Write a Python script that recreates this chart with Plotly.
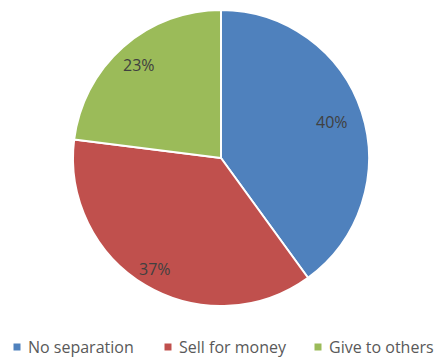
import math
import plotly.graph_objects as go

# Survey answers and their shares (%)
categories = ["No separation", "Sell for money", "Give to others"]
shares = [40, 37, 23]
colors = ["#4F81BD", "#C0504D", "#9BBB59"]

W, H = 436, 359
cx, cy, R = 221, 158, 148  # pie centre and radius in pixels
label_r = [0.79, 0.87, 0.84]  # radial position of each percentage label

font_family = "'Open Sans', sans-serif"
label_color = "#404040"
legend_color = "#595959"

fig = go.Figure(
    go.Pie(
        labels=categories,
        values=shares,
        sort=False,
        direction="clockwise",
        rotation=0,
        marker=dict(colors=colors, line=dict(color="white", width=2)),
        textinfo="none",
        hoverinfo="label+percent",
        domain=dict(
            x=[(cx - R) / W, (cx + R) / W],
            y=[1 - (cy + R) / H, 1 - (cy - R) / H],
        ),
        showlegend=False,
    )
)

# Percentage labels placed at the middle angle of each slice
total = sum(shares)
cum = 0
annotations = []
for v, rr in zip(shares, label_r):
    mid = (cum + v / 2) / total * 2 * math.pi
    cum += v
    px = cx + rr * R * math.sin(mid)
    py = cy - rr * R * math.cos(mid)
    annotations.append(dict(
        x=px / W, y=1 - py / H, xref="paper", yref="paper",
        text=f"{round(v / total * 100)}%", showarrow=False,
        font=dict(family=font_family, size=16, color=label_color),
        xanchor="center", yanchor="middle",
    ))

# Legend row along the bottom: coloured square + label
shapes = []
legend_x = [17, 168, 318]
legend_y = 347
for name, col, lx in zip(categories, colors, legend_x):
    s = 3.5
    shapes.append(dict(
        type="rect", xref="paper", yref="paper",
        x0=(lx - s) / W, x1=(lx + s) / W,
        y0=1 - (legend_y + s) / H, y1=1 - (legend_y - s) / H,
        fillcolor=col, line=dict(width=0),
    ))
    annotations.append(dict(
        x=(lx + 9) / W, y=1 - legend_y / H, xref="paper", yref="paper",
        text=name, showarrow=False, xanchor="left", yanchor="middle",
        font=dict(family=font_family, size=16, color=legend_color),
    ))

fig.update_layout(
    width=W, height=H,
    margin=dict(l=0, r=0, t=0, b=0),
    paper_bgcolor="white",
    plot_bgcolor="white",
    annotations=annotations,
    shapes=shapes,
)

fig.write_html("out.html")
